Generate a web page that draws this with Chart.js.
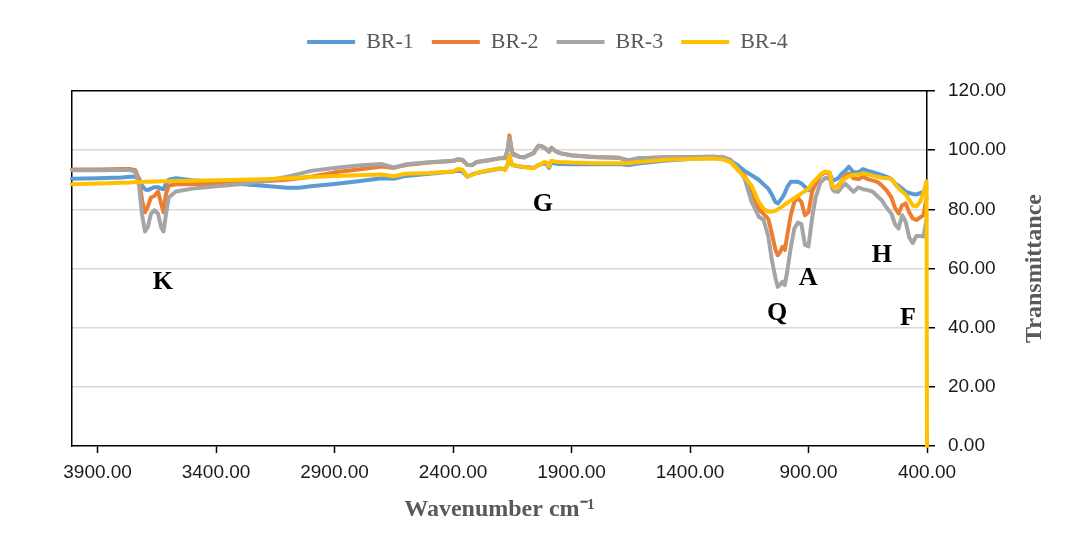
<!DOCTYPE html>
<html>
<head>
<meta charset="utf-8">
<title>FTIR BR-1 to BR-4</title>
<script src="https://cdn.jsdelivr.net/npm/chart.js@4.4.1/dist/chart.umd.min.js"></script>
<style>
  html, body { margin: 0; padding: 0; background: #fff; }
  canvas { display: block; }
</style>
</head>
<body>
<canvas id="ftir" width="1073" height="549"></canvas>
<script>
// wavenumber grid (cm-1), shared by all four spectra
const wavenumbers = [
  4008, 3900, 3800, 3760, 3740, 3725, 3712, 3700, 3688, 3675,
  3660, 3645, 3632, 3622, 3612, 3600, 3570, 3500, 3400, 3300,
  3200, 3100, 3050, 3000, 2900, 2800, 2700, 2650, 2600, 2500,
  2400, 2380, 2360, 2340, 2320, 2300, 2250, 2200, 2180, 2170,
  2162, 2150, 2120, 2100, 2080, 2060, 2040, 2025, 2015, 2005,
  1995, 1985, 1970, 1950, 1900, 1800, 1700, 1660, 1620, 1500,
  1400, 1300, 1260, 1230, 1200, 1170, 1140, 1110, 1090, 1070,
  1055, 1040, 1030, 1020, 1010, 1000, 990, 975, 960, 945,
  930, 915, 900, 885, 870, 850, 830, 810, 800, 790,
  775, 760, 745, 730, 710, 690, 670, 650, 630, 610,
  590, 570, 550, 535, 520, 505, 490, 475, 460, 445,
  430, 415, 402, 400
];

// transmittance (%)
const br1 = [
  90.3, 90.5, 90.8, 91.0, 91.0, 90.5, 88.0, 86.8, 86.5, 87.0,
  87.5, 87.5, 87.0, 86.8, 88.5, 90.0, 90.5, 89.8, 89.2, 88.6,
  88.0, 87.3, 87.3, 87.8, 88.6, 89.5, 90.5, 90.3, 91.3, 92.0,
  92.8, 93.0, 92.8, 91.0, 91.8, 92.3, 93.0, 93.8, 93.5, 95.0,
  97.5, 95.0, 94.5, 94.3, 94.2, 94.0, 95.0, 95.3, 95.5, 95.3,
  94.0, 95.8, 95.5, 95.3, 95.2, 95.2, 95.3, 95.0, 95.5, 96.5,
  97.0, 97.5, 97.3, 96.5, 95.0, 93.0, 91.5, 90.0, 88.5, 87.0,
  85.0, 82.5, 82.0, 83.0, 84.0, 85.5, 87.5, 89.3, 89.3, 89.3,
  88.8, 87.6, 86.5, 88.0, 89.5, 91.5, 92.7, 92.0, 90.0, 89.9,
  90.5, 92.0, 93.0, 94.4, 92.5, 92.5, 93.6, 93.0, 92.6, 92.1,
  91.6, 91.0, 90.2, 88.8, 88.0, 87.0, 86.0, 85.5, 85.2, 85.0,
  85.5, 85.9, 87.0, null
];
const br2 = [
  93.5, 93.5, 93.6, 93.6, 93.2, 90.0, 83.0, 79.0, 81.0, 84.0,
  84.5, 86.0, 82.0, 79.0, 85.0, 88.0, 88.5, 88.5, 88.6, 89.0,
  89.5, 90.0, 90.5, 91.0, 92.5, 93.5, 94.5, 94.0, 95.0, 95.8,
  96.3, 96.8, 96.6, 95.0, 95.0, 96.0, 96.6, 97.3, 97.5, 100.0,
  105.0, 99.0, 97.8, 97.6, 98.3, 99.0, 101.5, 101.3, 100.8, 100.3,
  99.4, 100.8, 99.8, 99.0, 98.3, 97.7, 97.4, 96.5, 97.2, 97.6,
  97.7, 97.8, 97.6, 96.5, 93.5, 91.5, 86.0, 80.0, 78.5, 76.8,
  72.0, 66.5, 64.5, 65.5, 67.3, 66.3, 71.0, 78.0, 82.5, 83.7,
  82.5, 78.0, 79.0, 86.0, 88.5, 91.5, 92.5, 92.0, 88.0, 87.2,
  88.0, 89.6, 91.3, 92.1, 90.5, 90.2, 91.0, 90.2, 89.8, 89.3,
  88.0, 86.3, 84.0, 80.5, 78.6, 81.4, 82.0, 79.0, 76.9, 76.4,
  77.2, 78.0, 84.0, null
];
const br3 = [
  93.2, 93.2, 93.3, 93.3, 92.5, 88.0, 78.0, 72.5, 74.0, 78.5,
  79.7, 78.5, 74.0, 72.5, 78.0, 84.0, 86.0, 87.0, 87.8, 88.5,
  89.5, 91.0, 92.0, 93.0, 94.0, 94.8, 95.3, 94.2, 95.2, 95.9,
  96.4, 97.0, 96.8, 95.0, 94.9, 96.0, 96.6, 97.3, 97.3, 100.0,
  104.0, 98.5, 97.7, 97.5, 98.3, 99.0, 101.5, 101.2, 100.8, 100.2,
  99.4, 100.8, 99.8, 99.0, 98.2, 97.6, 97.4, 96.5, 97.3, 97.6,
  97.7, 97.8, 97.6, 96.8, 94.0, 90.5, 82.5, 77.5, 76.5, 71.0,
  63.0, 57.0, 53.8, 54.5, 55.5, 54.4, 59.0, 67.0, 73.5, 75.5,
  75.0, 68.0, 67.5, 77.0, 84.0, 89.0, 90.6, 90.5, 87.0, 86.0,
  85.9, 87.5, 88.7, 87.5, 85.9, 87.4, 86.8, 86.5, 86.0, 84.5,
  83.0, 80.5, 78.5, 75.0, 73.5, 78.0, 75.8, 70.5, 68.6, 71.0,
  71.0, 70.8, 76.5, null
];
const br4 = [
  88.5, 88.7, 89.0, 89.1, 89.2, 89.2, 89.2, 89.3, 89.3, 89.3,
  89.4, 89.4, 89.5, 89.5, 89.5, 89.5, 89.6, 89.7, 89.8, 90.0,
  90.2, 90.5, 90.7, 90.9, 91.3, 91.5, 91.8, 91.2, 92.0, 92.3,
  92.8, 93.6, 93.4, 91.2, 91.6, 92.3, 93.2, 93.9, 93.2, 95.0,
  98.3, 95.0, 94.6, 94.3, 94.0, 93.9, 94.9, 95.5, 96.0, 95.8,
  94.4, 96.4, 96.2, 96.0, 95.8, 95.6, 95.6, 95.6, 96.0, 96.8,
  97.0, 97.2, 96.8, 96.0, 93.5, 91.0, 88.0, 82.5, 80.2, 79.3,
  79.2, 79.5, 80.0, 80.5, 81.0, 81.6, 82.2, 83.0, 83.8, 84.6,
  85.4, 86.2, 87.0, 88.8, 90.0, 91.8, 92.8, 92.5, 88.0, 87.2,
  87.6, 89.6, 90.4, 91.2, 91.6, 91.8, 92.1, 91.8, 91.4, 91.0,
  90.7, 90.5, 90.3, 88.5, 87.2, 86.0, 85.0, 83.3, 81.3, 81.0,
  82.4, 85.6, 89.5, 0
];

const seriesNames = ['BR-1', 'BR-2', 'BR-3', 'BR-4'];
const seriesColors = ['#5B9BD5', '#ED7D31', '#A5A5A5', '#FFC000'];
const xTickValues = [3900, 3400, 2900, 2400, 1900, 1400, 900, 400];

// band letters, placed in data units
const peakLetters = [
  { text: 'K', wn: 3625, t: 55.4 },
  { text: 'G', wn: 2021, t: 81.8 },
  { text: 'Q', wn: 1033, t: 44.9 },
  { text: 'A', wn: 902,  t: 56.8 },
  { text: 'H', wn: 590,  t: 64.5 },
  { text: 'F', wn: 480,  t: 43.2 }
];

const toPoints = vals => wavenumbers.map((w, i) => ({ x: w, y: vals[i] }));

const datasets = [br1, br2, br3, br4].map((vals, i) => ({
  label: seriesNames[i],
  data: toPoints(vals),
  borderColor: seriesColors[i],
  backgroundColor: seriesColors[i],
  borderWidth: 4,
  borderCapStyle: 'round',
  borderJoinStyle: 'round',
  pointRadius: 0,
  tension: 0,
  clip: 5,        // let the closing stroke at 400 cm-1 sit on the axis
  order: 3 - i    // later series on top
}));

const letterPlugin = {
  id: 'letterPlugin',
  afterDatasetsDraw(chart) {
    const { ctx, scales } = chart;
    ctx.save();
    ctx.font = 'bold 26px "Liberation Serif"';
    ctx.fillStyle = '#000';
    ctx.textAlign = 'center';
    ctx.textBaseline = 'middle';
    peakLetters.forEach(p => {
      ctx.fillText(p.text, scales.x.getPixelForValue(p.wn), scales.y.getPixelForValue(p.t));
    });
    ctx.restore();
  },
  afterDraw(chart) {
    // y title reads bottom-to-top on the right side
    const { ctx, chartArea, scales } = chart;
    ctx.save();
    ctx.translate(scales.y.right - 38, (chartArea.top + chartArea.bottom) / 2);
    ctx.rotate(-Math.PI / 2);
    ctx.font = 'bold 24px "Liberation Serif"';
    ctx.fillStyle = '#595959';
    ctx.textAlign = 'center';
    ctx.textBaseline = 'middle';
    ctx.fillText('Transmittance', 0, 0);
    ctx.restore();
  }
};

const tickFont = { family: '"Liberation Sans"', size: 19 };

new Chart(document.getElementById('ftir'), {
  type: 'line',
  data: { datasets },
  plugins: [letterPlugin],
  options: {
    responsive: false,
    animation: false,
    layout: { padding: { top: 13, left: 22, right: 0, bottom: 0 } },
    plugins: {
      legend: {
        position: 'top',
        labels: {
          usePointStyle: true,
          pointStyle: 'line',
          pointStyleWidth: 48,
          padding: 18,
          color: '#595959',
          font: { family: '"Liberation Serif"', size: 22 },
          sort: (a, b) => a.datasetIndex - b.datasetIndex
        }
      },
      tooltip: { enabled: false }
    },
    scales: {
      x: {
        type: 'linear',
        position: 'bottom',
        reverse: true,
        min: 400,
        max: 4008,
        afterBuildTicks: scale => {
          scale.ticks = xTickValues.map(v => ({ value: v }));
        },
        afterFit: scale => { scale.height = 103; },
        grid: {
          drawOnChartArea: false,
          drawTicks: true,
          tickLength: 7,
          tickColor: '#000',
          tickWidth: 1.5
        },
        border: { display: true, color: '#000', width: 1.5 },
        ticks: {
          color: '#1a1a1a',
          font: tickFont,
          padding: 8,
          maxRotation: 0,
          autoSkip: false,
          callback: v => Number(v).toFixed(2)
        },
        title: {
          display: true,
          text: 'Wavenumber cm⁻¹',
          color: '#595959',
          font: { family: '"Liberation Serif"', size: 24, weight: 'bold' },
          padding: { top: 4, bottom: 25 }
        }
      },
      xTop: {
        axis: 'x',
        type: 'linear',
        position: 'top',
        display: true,
        grid: { display: false },
        ticks: { display: false },
        border: { display: true, color: '#000', width: 1.5 },
        afterFit: scale => { scale.height = 28; }
      },
      y: {
        type: 'linear',
        position: 'right',
        min: 0,
        max: 120,
        afterFit: scale => { scale.width = 146; },
        grid: {
          color: c => (c.tick && (c.tick.value === 0 || c.tick.value === 120)) ? 'rgba(0,0,0,0)' : '#d9d9d9',
          lineWidth: 1.5,
          drawTicks: true,
          tickLength: 8,
          tickColor: '#000',
          tickWidth: 1.5
        },
        border: { display: true, color: '#000', width: 1.5 },
        ticks: {
          stepSize: 20,
          color: '#1a1a1a',
          font: tickFont,
          padding: 13,
          callback: v => Number(v).toFixed(2)
        }
      },
      yLeft: {
        axis: 'y',
        type: 'linear',
        position: 'left',
        display: true,
        grid: { display: false },
        ticks: { display: false },
        border: { display: true, color: '#000', width: 1.5 },
        afterFit: scale => { scale.width = 50; }
      }
    }
  }
});
</script>
</body>
</html>
